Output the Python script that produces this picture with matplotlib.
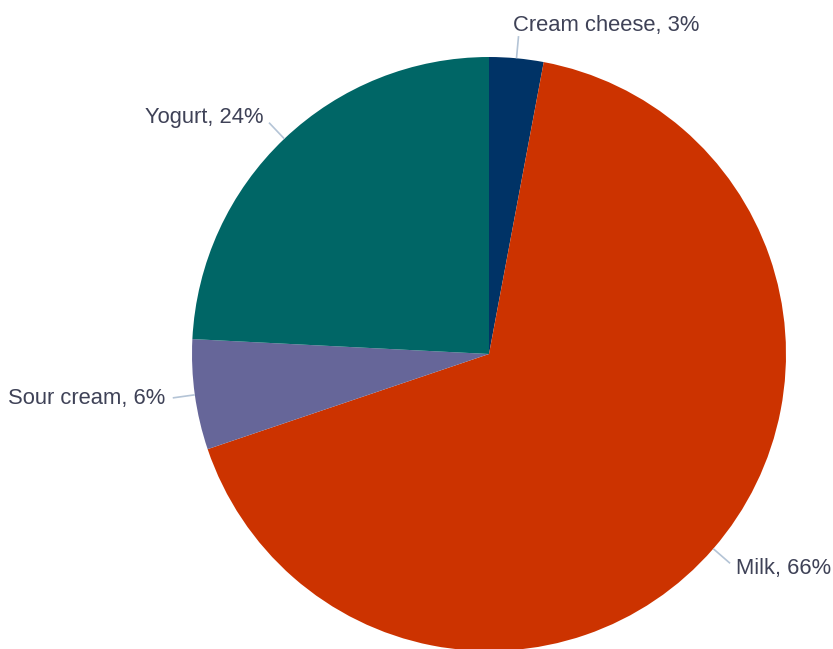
import matplotlib.pyplot as plt
import numpy as np

# dairy product shares, clockwise from 12 o'clock
labels = ['Cream cheese', 'Milk', 'Sour cream', 'Yogurt']
shares = [2.95, 66.86, 5.99, 24.2]
pct_text = [3, 66, 6, 24]
colors = ['#003366', '#cc3300', '#666699', '#006666']

text_color = '#3f4257'
line_color = '#b4c4d6'

fig = plt.figure(figsize=(8.33, 6.49), dpi=100)
ax = fig.add_axes([0, 0, 1, 1])

cx, cy, r = 489, 295, 297
wedges, _ = ax.pie(shares, colors=colors, startangle=90, counterclock=False,
                   center=(cx, cy), radius=r,
                   wedgeprops=dict(linewidth=0))

for w, lab, p in zip(wedges, labels, pct_text):
    ang = np.deg2rad((w.theta1 + w.theta2) / 2)
    dx, dy = np.cos(ang), np.sin(ang)
    x0, y0 = cx + r * dx, cy + r * dy
    x1, y1 = cx + r * 1.075 * dx, cy + r * 1.075 * dy
    ax.plot([x0, x1], [y0, y1], color=line_color, lw=1.2, solid_capstyle='butt')
    tx, ty = cx + r * 1.10 * dx, cy + r * 1.10 * dy
    ha = 'left' if dx > 0 else 'right'
    if dy > 0.95:
        tx -= 6
        ty += 3
    ax.text(tx, ty, '%s, %d%%' % (lab, p), ha=ha, va='center',
            fontsize=15.8, color=text_color, family='Liberation Sans')

ax.set_xlim(0, 833)
ax.set_ylim(0, 649)
ax.set_aspect('auto')
ax.axis('off')

plt.savefig('out.png', dpi=100)
